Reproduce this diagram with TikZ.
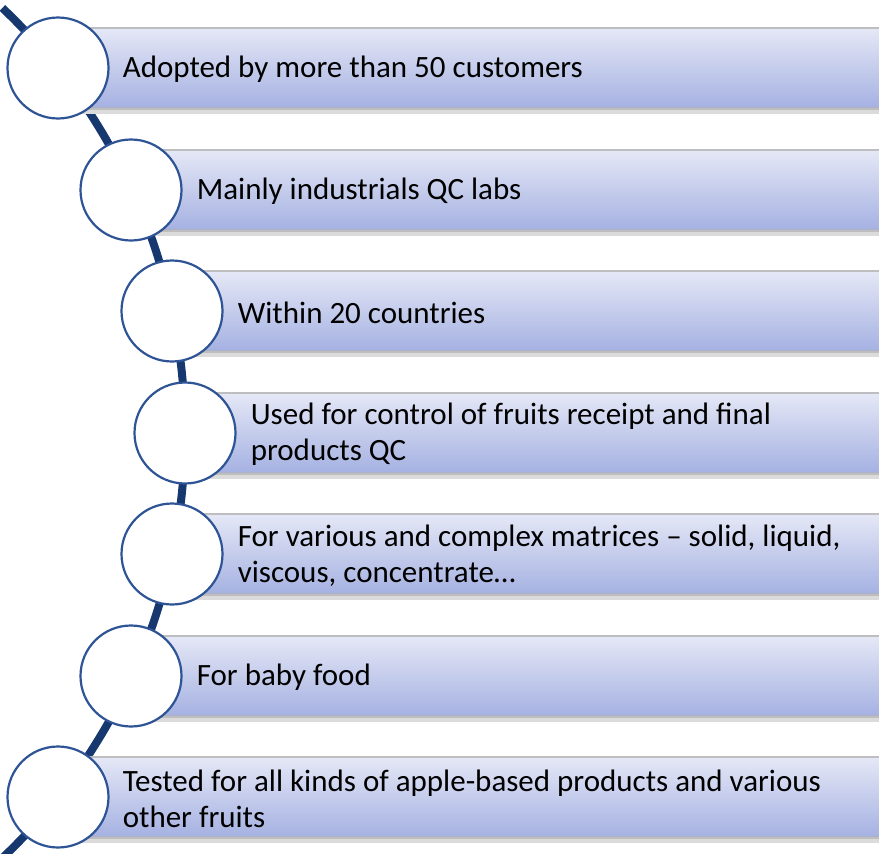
\documentclass[tikz,border=0pt]{standalone}
\usepackage{fontspec}
\setmainfont{Carlito}
\definecolor{spine}{RGB}{22,56,110}
\definecolor{ringblue}{RGB}{46,84,150}
\definecolor{bartop}{RGB}{228,231,246}
\definecolor{barbot}{RGB}{166,178,226}
\definecolor{shadowgrey}{RGB}{190,190,192}
\begin{document}
\begin{tikzpicture}[x=1pt,y=-1pt,
  ring/.style={circle,draw=ringblue,line width=2.2pt,fill=white,minimum size=101pt,inner sep=0pt},
  label/.style={anchor=west,align=left,font=\fontsize{31}{36}\selectfont,inner sep=0pt,text=black},
  barfill/.style={top color=bartop,bottom color=barbot,draw=none},
]
\useasboundingbox (0,0) rectangle (879,854);
\begin{scope}
\clip (0,0) rectangle (879,854);
% curved spine behind the circles
\draw[spine,line width=8pt] plot[domain=-46.5:46.5,samples=120]
  ({-401+586*cos(\x)},{433+586*sin(\x)});
% bars with their soft shadow
\foreach \i/\cx/\cy in {1/58/68,2/131/190,3/172/311,4/185/433,5/172/554,6/131/676,7/58/797}{
  \fill[shadowgrey!55] (\cx,\cy-41) rectangle (885,\cy+46);
  \fill[shadowgrey] (\cx,\cy-41) rectangle (885,\cy+42);
  \fill[barbot!70!black!60] (\cx,\cy-39) rectangle (885,\cy+40);
  \shade[barfill] (\cx,\cy-39) rectangle (885,\cy+38.5);
}
\end{scope}
% circles
\node[ring] (c1) at (58,68) {};
\node[ring] (c2) at (131,190) {};
\node[ring] (c3) at (172,311) {};
\node[ring] (c4) at (185,433) {};
\node[ring] (c5) at (172,554) {};
\node[ring] (c6) at (131,676) {};
\node[ring] (c7) at (58,797) {};
% texts
\node[label] (t1) at ([xshift=13pt,yshift=-1.5pt]c1.east) {Adopted by more than 50 customers};
\node[label] (t2) at ([xshift=14pt,yshift=-1.5pt]c2.east) {Mainly industrials QC labs};
\node[label] (t3) at ([xshift=14pt,yshift=-1.5pt]c3.east) {Within 20 countries};
\node[label] (t4) at ([xshift=14pt,yshift=-1.5pt]c4.east) {Used for control of fruits receipt and final\\products QC};
\node[label] (t5) at ([xshift=14pt,yshift=-1.5pt]c5.east) {For various and complex matrices – solid, liquid,\\viscous, concentrate…};
\node[label] (t6) at ([xshift=14pt,yshift=-1.5pt]c6.east) {For baby food};
\node[label] (t7) at ([xshift=13pt,yshift=-1.5pt]c7.east) {Tested for all kinds of apple-based products and various\\other fruits};
\end{tikzpicture}
\end{document}
